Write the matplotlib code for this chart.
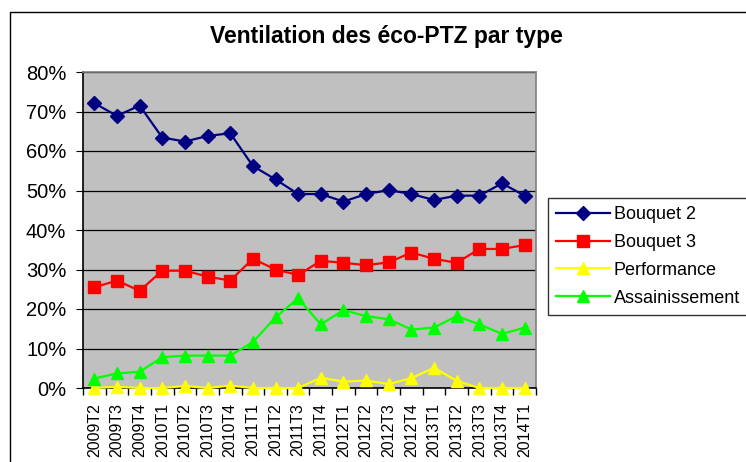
import matplotlib
matplotlib.use("Agg")
import matplotlib.pyplot as plt
from matplotlib.patches import Rectangle
from matplotlib.ticker import FixedLocator, PercentFormatter

# trimestres
periods = ["2009T2", "2009T3", "2009T4",
           "2010T1", "2010T2", "2010T3", "2010T4",
           "2011T1", "2011T2", "2011T3", "2011T4",
           "2012T1", "2012T2", "2012T3", "2012T4",
           "2013T1", "2013T2", "2013T3", "2013T4",
           "2014T1"]

# parts en %
bouquet2 = [72.1, 68.9, 71.5, 63.4, 62.4, 63.8, 64.5, 56.2, 52.8, 49.1,
            49.1, 47.2, 49.1, 50.1, 49.1, 47.6, 48.7, 48.7, 51.8, 48.7]
bouquet3 = [25.5, 27.2, 24.6, 29.7, 29.7, 28.2, 27.2, 32.7, 30.0, 28.6,
            32.2, 31.7, 31.1, 31.8, 34.3, 32.7, 31.7, 35.2, 35.2, 36.2]
performance = [0.0, 0.3, 0.0, 0.0, 0.5, 0.0, 0.6, 0.0, 0.0, 0.0,
               2.6, 1.6, 1.9, 1.0, 2.5, 5.1, 1.8, 0.0, 0.0, 0.0]
assainissement = [2.4, 3.7, 4.1, 7.8, 8.2, 8.2, 8.2, 11.6, 17.9, 22.7,
                  16.1, 19.7, 18.2, 17.4, 14.8, 15.3, 18.2, 16.1, 13.7, 15.3]

plt.rcParams['font.family'] = ['Liberation Sans', 'DejaVu Sans']

fig = plt.figure(figsize=(7.46, 4.62), dpi=100)
ax = fig.add_axes([83 / 746, 1 - 388 / 462, 453 / 746, 316 / 462])
ax.set_facecolor("#C0C0C0")

x = list(range(len(periods)))
ax.plot(x, bouquet2, color="#000080", lw=1.6, marker="D", ms=7.5,
        label="Bouquet 2", zorder=5)
ax.plot(x, bouquet3, color="#FF0000", lw=1.6, marker="s", ms=8,
        label="Bouquet 3", zorder=4)
ax.plot(x, performance, color="#FFFF00", lw=1.6, marker="^", ms=9,
        label="Performance", zorder=3, clip_on=False)
ax.plot(x, assainissement, color="#00FF00", lw=1.6, marker="^", ms=9,
        label="Assainissement", zorder=3)

ax.set_xlim(-0.5, len(periods) - 0.5)
ax.set_ylim(0, 80)
ax.yaxis.set_major_locator(FixedLocator(range(0, 81, 10)))
ax.yaxis.set_major_formatter(PercentFormatter(decimals=0))
ax.grid(axis="y", color="#000000", lw=0.9)
ax.set_axisbelow(True)

ax.set_xticks(x)
ax.set_xticklabels(periods, rotation=90, fontsize=11.5)
ax.set_xticks([i - 0.5 for i in range(len(periods) + 1)], minor=True)
ax.tick_params(axis="x", which="major", length=0, pad=11)
ax.tick_params(axis="x", which="minor", length=5, direction="out", width=1)
ax.tick_params(axis="y", length=5, direction="out", labelsize=14.5, pad=7)

ax.spines["left"].set_color("#000000")
ax.spines["bottom"].set_color("#000000")
ax.spines["top"].set_color("#808080")
ax.spines["right"].set_color("#808080")
for s in ax.spines.values():
    s.set_linewidth(1.2)

leg = ax.legend(loc="upper left", bbox_to_anchor=(548 / 746, 1 - 198 / 462),
                bbox_transform=fig.transFigure, fontsize=13, frameon=True,
                fancybox=False, edgecolor="#000000", handlelength=3.0,
                labelspacing=0.6, borderpad=0.45, handletextpad=0.2,
                borderaxespad=0)
leg.get_frame().set_linewidth(1)

fig.text(386 / 746, 1 - 37 / 462, "Ventilation des éco-PTZ par type",
         ha="center", va="center", fontsize=16.5, fontweight="bold")

# cadre du graphique
fig.patches.append(Rectangle((9.5 / 746, -0.1), 1.1, 0.1 + 1 - 12.5 / 462,
                             transform=fig.transFigure, fill=False,
                             edgecolor="#000000", lw=1))

fig.savefig("out.png", dpi=100)
